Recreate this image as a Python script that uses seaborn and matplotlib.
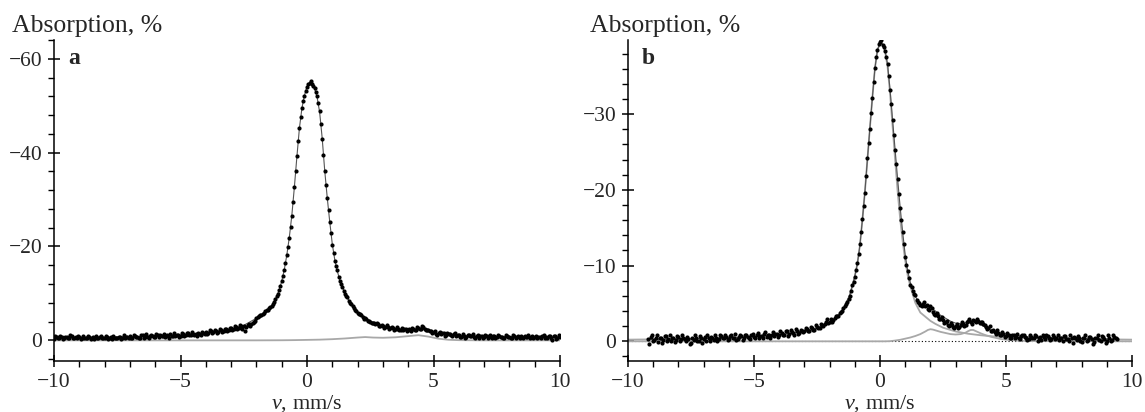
import numpy as np
import matplotlib
matplotlib.use("Agg")
import matplotlib.pyplot as plt
import seaborn as sns
from matplotlib.ticker import MultipleLocator

# ---------------- panel a : measured spectrum (absorption depth, %) -------------
# even channels: -10.0 ... 10.0 mm/s (step 0.1)
depth_a = [
    0.2, 0.7, 0.6, 0.8, 0.5, 0.7, 0.6, 0.9, 0.6, 0.5,
    0.7, 0.6, 0.4, 0.5, 0.8, 0.6, 0.3, 0.5, 0.7, 0.4,
    0.6, 0.8, 0.5, 0.3, 0.6, 0.5, 0.8, 0.6, 0.4, 0.7,
    0.9, 0.6, 1.0, 0.8, 0.5, 1.1, 0.8, 0.7, 0.9, 1.0,
    0.8, 1.1, 1.2, 0.9, 0.7, 1.0, 1.3, 1.0, 0.9, 1.2,
    1.0, 1.3, 1.2, 1.5, 1.1, 1.4, 1.3, 1.6, 1.2, 1.5,
    1.8, 1.5, 1.9, 1.7, 2.0, 1.8, 2.2, 1.9, 2.4, 2.2,
    2.6, 2.4, 2.8, 2.7, 3.0, 3.1, 2.9, 3.5, 3.4, 3.9,
    4.8, 5.1, 5.5, 5.9, 6.5, 6.8, 7.4, 8.2, 9.4, 10.7,
    12.6, 15.0, 18.1, 21.8, 26.5, 32.7, 39.2, 45.3, 49.5, 52.0,
    54.0, 54.9, 54.6, 53.8, 52.0, 48.8, 43.0, 36.0, 30.4, 25.3,
    20.4, 17.0, 14.9, 12.6, 11.4, 9.9, 9.2, 7.9, 7.3, 6.5,
    5.9, 5.6, 4.9, 4.7, 4.1, 4.0, 3.8, 3.4, 3.4, 3.1,
    3.0, 2.8, 2.9, 2.6, 2.7, 2.4, 2.5, 2.3, 2.1, 2.4,
    2.2, 2.0, 2.4, 2.3, 2.6, 2.5, 2.8, 2.3, 2.1, 1.9,
    1.7, 1.4, 1.6, 1.3, 1.5, 1.2, 1.4, 1.1, 1.3, 1.0,
    1.1, 0.8, 1.0, 0.7, 1.2, 0.9, 0.8, 1.0, 0.6, 0.9,
    0.7, 1.0, 0.8, 0.6, 0.9, 0.7, 1.0, 0.8, 0.5, 0.9,
    0.8, 0.6, 0.9, 0.7, 0.5, 0.8, 1.0, 0.7, 0.6, 0.9,
    0.7, 0.5, 0.8, 0.9, 0.6, 0.4, 0.9, 0.1, 1.0, 0.6, 0.8,
]
vel_a_range = (-10.0, 10.0)
# odd channels: -9.95 ... 9.95 mm/s (step 0.1)
depth_a_odd = [
    0.9, 0.4, 1.0, 0.3, 0.8, 0.5, 1.1, 0.4, 0.7, 0.9,
    0.3, 0.9, 0.6, 1.0, 0.2, 0.7, 0.9, 0.4, 1.0, 0.6,
    0.9, 0.3, 0.7, 1.0, 0.4, 0.8, 0.3, 1.1, 0.7, 0.5,
    0.5, 1.2, 0.7, 0.4, 1.1, 0.6, 1.3, 0.5, 1.2, 0.7,
    1.3, 0.7, 0.9, 1.4, 1.1, 0.6, 1.0, 1.5, 1.2, 0.8,
    1.5, 1.0, 1.6, 1.1, 1.7, 1.2, 1.0, 1.4, 1.8, 1.3,
    1.4, 2.1, 1.6, 2.2, 1.5, 2.4, 1.8, 2.5, 2.0, 2.7,
    2.3, 3.0, 2.5, 3.2, 2.4, 2.0, 3.3, 3.1, 3.8, 4.1,
    4.9, 5.4, 5.6, 6.3, 6.5, 7.2, 7.7, 8.9, 9.9, 11.6,
    13.7, 16.5, 19.9, 24.1, 29.5, 36.0, 42.4, 47.6, 50.9, 53.1,
    54.7, 55.2, 54.3, 53.0, 50.6, 46.1, 39.5, 33.1, 27.8, 22.8,
    18.6, 15.9, 13.6, 12.1, 10.6, 9.5, 8.4, 7.7, 6.8, 6.3,
    5.6, 5.3, 4.6, 4.5, 4.2, 3.7, 3.6, 3.6, 3.1, 3.3,
    2.7, 3.2, 2.5, 2.9, 2.3, 2.8, 2.1, 2.6, 2.5, 2.0,
    2.4, 2.6, 2.1, 2.8, 2.4, 3.0, 2.5, 2.2, 2.0, 1.6,
    1.9, 1.2, 1.8, 1.5, 1.0, 1.6, 1.3, 0.9, 1.5, 1.2,
    0.8, 1.3, 0.6, 1.2, 0.9, 1.4, 0.6, 1.1, 1.0, 0.5,
    1.2, 0.6, 1.1, 0.9, 0.4, 1.2, 0.7, 0.5, 1.1, 0.8,
    0.5, 1.1, 0.6, 1.0, 0.9, 0.4, 0.7, 1.2, 0.8, 0.5,
    1.0, 0.7, 0.4, 1.1, 0.8, 1.0, 0.5, 0.9, 0.3, 1.1,
]
vel_a_odd_range = (-9.95, 9.95)

# total fit curve, panel a
fit_v_a = [-10, -8, -6, -5, -4, -3.5, -3, -2.5,
           -2.0, -1.8, -1.6, -1.4, -1.2, -1.1,
           -1.0, -0.9, -0.8, -0.7, -0.6, -0.5, -0.4, -0.3, -0.2, -0.1,
           0.0, 0.1, 0.2, 0.3, 0.4, 0.5, 0.6, 0.7, 0.8, 0.9, 1.0, 1.1, 1.2, 1.3, 1.4,
           1.6, 1.8, 2.0, 2.5, 3.0, 3.5, 4.0, 4.5, 5.0, 5.5, 6, 8, 10]
fit_a = [0.6, 0.65, 0.9, 1.15, 1.65, 1.95, 2.45, 3.2,
         4.7, 5.4, 6.3, 7.3, 9.3, 10.7,
         12.6, 15.0, 18.1, 21.9, 26.6, 32.6, 39.1, 45.2, 49.5, 52.2,
         54.1, 54.9, 54.6, 53.7, 51.8, 48.6, 43.1, 36.2, 30.4, 25.2, 20.5, 17.1, 14.7, 12.8, 11.3,
         9.0, 7.3, 6.0, 4.1, 3.0, 2.4, 2.25, 2.5, 1.6, 1.15, 1.0, 0.8, 0.75]

# minor subspectrum, panel a
comp_v_a = [-10, -2, -1, -0.5, 0, 0.5, 1.0, 1.5, 2.0, 2.3, 2.6, 3.0, 3.5, 4.0, 4.4,
            4.8, 5.2, 5.6, 6.0, 7, 10]
comp_a = [0, 0, 0.02, 0.05, 0.1, 0.15, 0.25, 0.4, 0.6, 0.7, 0.6, 0.55, 0.65, 0.9, 1.1,
          0.8, 0.35, 0.12, 0.04, 0, 0]

# ---------------- panel b : measured spectrum -------------
# even channels: -9.2 ... 9.4 mm/s (step 0.1)
depth_b = [
    0.3, 0.6, 0.1, 0.4, -0.1, 0.5, 0.2, 0.7, 0.3, 0.0,
    0.4, 0.2, 0.6, 0.3, 0.5, 0.1, 0.3, -0.2, 0.2, 0.4,
    0.1, 0.5, 0.3, 0.0, 0.4, 0.6, 0.2, 0.5, 0.3, 0.7,
    0.4, 0.6, 0.3, 0.8, 0.5, 0.2, 0.6, 0.7, 0.4, 0.9,
    0.5, 0.8, 0.6, 0.9, 0.4, 0.7, 1.0, 0.6, 0.8, 0.9,
    0.7, 1.0, 0.8, 1.1, 0.9, 1.3, 1.0, 1.2, 0.9, 1.4,
    1.1, 1.4, 1.3, 1.6, 1.4, 1.7, 1.5, 1.9, 1.8, 2.1,
    2.3, 2.9, 2.6, 2.6, 3.1, 3.3, 3.7, 4.0, 4.7, 5.2,
    6.0, 7.4, 8.5, 10.3, 12.8, 16.1, 19.6, 24.2, 28.1, 32.2,
    36.1, 38.5,
    39.6, 39.1, 38.4, 36.6,
    33.2, 29.2, 25.3, 21.5, 17.6, 14.5, 11.1,
    9.3, 7.5, 6.6, 6.1, 5.2, 4.8, 4.9, 4.7, 4.3, 4.6,
    3.9, 3.5, 3.3, 3.0, 2.8, 2.5, 2.2, 2.4, 1.9, 2.0,
    1.8, 2.1, 2.3, 2.2, 2.7, 2.5, 2.8, 2.6, 2.7, 2.5,
    2.3, 1.9, 1.8, 1.3, 1.5, 1.0, 1.1, 0.8, 1.0, 0.7,
    0.9, 0.5, 0.8, 0.6, 0.4, 0.7, 0.9, 0.5, 0.3, 0.6,
    0.4, 0.7, 0.5, 0.2, 0.6, 0.8, 0.4, 0.3, 0.6, 0.5,
    0.2, 0.5, 0.7, 0.3, 0.1, 0.4, 0.6, 0.2, 0.5, -0.1,
    0.4, 0.1, 0.6, 0.3, -0.1, 0.5, 0.2, 0.7, 0.3, 0.0,
    0.5, 0.2, 0.6, 0.3,
]
vel_b_range = (-9.2, 9.4)
# odd channels: -9.15 ... 9.35 mm/s (step 0.1)
depth_b_odd = [
    -0.3, 0.8, 0.2, 0.9, 0.4, -0.2, 0.7, 0.1, 0.8, 0.5,
    -0.1, 0.7, 0.0, 0.9, 0.3, 0.6, -0.3, 0.5, 0.8, 0.1,
    0.7, -0.2, 0.6, 0.9, 0.1, 0.4, 0.8, 0.0, 0.9, 0.4,
    0.9, 0.2, 0.7, 0.4, 1.0, 0.3, 0.8, 0.2, 0.9, 0.6,
    0.3, 1.0, 0.5, 1.1, 0.7, 0.4, 1.2, 0.8, 0.5, 1.2,
    1.0, 0.6, 1.3, 0.8, 1.4, 0.7, 1.5, 1.1, 1.6, 1.0,
    1.5, 1.2, 1.8, 1.3, 1.9, 1.5, 2.1, 1.7, 2.3, 2.0,
    2.5, 2.4, 2.9, 2.8, 3.4, 3.4, 3.9, 4.4, 4.9, 5.6,
    6.6, 7.9, 9.4, 11.5, 14.4, 17.9, 21.9, 26.2, 30.2, 34.3,
    37.5, 39.3, 39.8, 38.9, 37.6, 35.0, 31.3, 27.3, 23.4, 19.5,
    16.0, 12.9, 10.1, 8.4, 7.2, 6.3, 5.5, 5.1, 4.6, 5.2,
    4.8, 4.1, 4.4, 3.6, 3.8, 2.9, 3.2, 2.4, 2.7, 2.0,
    2.2, 1.7, 2.3, 1.9, 2.5, 2.0, 2.6, 2.9, 2.3, 2.7,
    2.9, 2.4, 2.6, 2.1, 1.6, 2.0, 1.4, 1.2, 1.5, 0.9,
    1.2, 0.6, 1.1, 0.4, 0.9, 0.5, 1.0, 0.3, 0.8, 0.6,
    0.2, 0.9, 0.4, 0.8, 0.1, 0.6, 0.9, 0.3, 0.7, 0.2,
    0.8, 0.3, 0.9, 0.4, 0.0, 0.7, 0.3, 0.9, -0.2, 0.4,
    0.7, 0.1, 0.5, 0.9, 0.2, 0.6, -0.3, 0.4, 0.8, 0.1,
    0.6, -0.2, 0.8, 0.0, 0.9, 0.4,
]
vel_b_odd_range = (-9.15, 9.35)

# total fit curve, panel b
fit_v_b = [-9.2, -8, -6, -5, -4, -3.5, -3, -2.5,
           -2, -1.8, -1.6, -1.4, -1.2, -1.1,
           -1.0, -0.9, -0.8, -0.7, -0.6, -0.5, -0.4, -0.3, -0.2, -0.1,
           0, 0.1, 0.2, 0.3, 0.4, 0.5, 0.6, 0.7, 0.8, 0.9, 1.0, 1.1, 1.2,
           1.4, 1.6, 1.8, 2.0, 2.2, 2.4, 2.6, 2.8, 3.0, 3.2, 3.4, 3.6, 3.8, 4.0, 4.2, 4.4,
           4.8, 5.2, 6, 8, 9.4]
fit_b = [0.25, 0.3, 0.46, 0.61, 0.88, 1.08, 1.3, 1.72,
         2.5, 2.95, 3.6, 4.6, 6.1, 7.3,
         8.6, 10.2, 12.6, 16.0, 19.7, 24.0, 28.2, 32.3, 36.1, 38.5,
         39.4, 39.3, 38.4, 36.6, 33.2, 29.2, 25.3, 21.4, 17.7, 14.4, 11.4, 9.3, 7.8,
         5.9, 5.0, 4.55, 4.45, 4.0, 3.45, 3.05, 2.65, 2.4, 2.35, 2.45, 2.7, 2.6, 2.2, 1.8, 1.5,
         1.1, 0.85, 0.55, 0.35, 0.28]

# main singlet, panel b
sing_v_b = [-10, -8, -6, -5, -4, -3.5, -3, -2.5,
            -2, -1.8, -1.6, -1.4, -1.2, -1.1,
            -1.0, -0.9, -0.8, -0.7, -0.6, -0.5, -0.4, -0.3, -0.2, -0.1,
            0, 0.1, 0.2, 0.3, 0.4, 0.5, 0.6, 0.7, 0.8, 0.9, 1.0, 1.1, 1.2,
            1.4, 1.6, 1.8, 2.0, 2.2, 2.5, 3.0, 3.5, 4.0, 4.5, 5, 6, 8, 10]
sing_b = [0.22, 0.3, 0.46, 0.61, 0.88, 1.08, 1.3, 1.72,
          2.5, 2.95, 3.6, 4.6, 6.1, 7.3,
          8.6, 10.2, 12.6, 16.0, 19.7, 24.0, 28.2, 32.3, 36.1, 38.5,
          39.3, 39.2, 38.3, 36.3, 32.7, 28.4, 24.0, 19.8, 16.2, 13.2, 10.7, 8.7, 7.3,
          5.1, 3.8, 3.25, 2.7, 2.3, 1.8, 1.3, 1.0, 0.8, 0.65, 0.55, 0.42, 0.3, 0.22]

# doublet subspectrum, panel b
doub_v_b = [-10, 0.2, 0.4, 0.6, 0.8, 1.0, 1.2, 1.4, 1.6, 1.8, 1.9, 2.0, 2.1, 2.2, 2.4, 2.6,
            2.8, 3.0, 3.2, 3.4, 3.5, 3.6, 3.7, 3.8, 4.0, 4.2, 4.4, 4.8, 5.2, 5.6, 6.0, 10]
doub_b = [0, 0, 0.02, 0.1, 0.2, 0.35, 0.5, 0.7, 0.95, 1.3, 1.5, 1.6, 1.55, 1.45, 1.25, 1.1,
          0.95, 0.9, 0.95, 1.15, 1.35, 1.5, 1.5, 1.35, 1.05, 0.8, 0.6, 0.3, 0.15, 0.07, 0.03, 0]

x_ticks = [-10, -5, 0, 5, 10]

# ---------------- styling ----------------
sns.set_theme(style="ticks")
plt.rcParams["font.family"] = ["Liberation Serif", "DejaVu Serif"]
plt.rcParams["mathtext.fontset"] = "custom"
plt.rcParams["mathtext.rm"] = "Liberation Serif"
plt.rcParams["mathtext.it"] = "Liberation Serif:italic"
plt.rcParams["axes.unicode_minus"] = True

W, H = 1145, 412
fig = plt.figure(figsize=(W / 100, H / 100), dpi=100)
ax_a = fig.add_axes([54 / W, 51 / H, 506 / W, 321 / H])
ax_b = fig.add_axes([628 / W, 51 / H, 504 / W, 321 / H])

GRAY = "#a8a8a8"
FITC = "#555555"


def channels(rng, values):
    return np.linspace(rng[0], rng[1], len(values))


def panel(ax, series, fit_v, fit, comps, ylim, ymaj, ymin, letter,
          label_x, zero_line):
    vel = np.concatenate([channels(r, d) for r, d in series])
    dep = np.concatenate([np.asarray(d, float) for r, d in series])
    for cv, cd in comps:
        sns.lineplot(x=cv, y=-np.asarray(cd), ax=ax, color=GRAY, lw=1.3,
                     estimator=None, sort=False, zorder=1)
    if zero_line:
        ax.axhline(0, color="black", lw=0.8, ls=(0, (1, 2)), zorder=0.5)
    sns.lineplot(x=fit_v, y=-np.asarray(fit), ax=ax, color=FITC, lw=0.8,
                 estimator=None, sort=False, zorder=2)
    sns.scatterplot(x=vel, y=-dep, ax=ax, s=9, color="black",
                    linewidth=0, zorder=3)
    ax.set_xlim(-10, 10)
    ax.set_xticks(x_ticks)
    ax.xaxis.set_minor_locator(MultipleLocator(1))
    ax.yaxis.set_major_locator(MultipleLocator(ymaj))
    ax.yaxis.set_minor_locator(MultipleLocator(ymin))
    ax.set_ylim(*ylim)
    sns.despine(ax=ax)
    for s in ("left", "bottom"):
        ax.spines[s].set_linewidth(1.1)
        ax.spines[s].set_color("black")
    ax.tick_params(which="major", direction="inout", length=9, width=1.1,
                   labelsize=15.5, color="black", pad=4)
    ax.tick_params(which="minor", direction="out", length=4, width=1.0,
                   color="black")
    ax.set_xlabel(r"$\it{v}$, mm/s", fontsize=16, labelpad=1)
    ax.set_ylabel("")
    ax.text(label_x, 1 + 8 / 321, "Absorption, %", transform=ax.transAxes,
            fontsize=18.5, ha="left", va="baseline")
    ax.text(0.028, 0.925, letter, transform=ax.transAxes, fontsize=17,
            fontweight="bold", ha="left", va="baseline")
    ax.grid(False)


panel(ax_a, [(vel_a_range, depth_a), (vel_a_odd_range, depth_a_odd)],
      fit_v_a, fit_a, [(comp_v_a, comp_a)],
      (4.4, -64), 20, 4, "a", -42 / 506, False)
panel(ax_b, [(vel_b_range, depth_b), (vel_b_odd_range, depth_b_odd)],
      fit_v_b, fit_b, [(sing_v_b, sing_b), (doub_v_b, doub_b)],
      (2.6, -39.8), 10, 2, "b", -38 / 504, True)

fig.savefig("out.png", dpi=100)
